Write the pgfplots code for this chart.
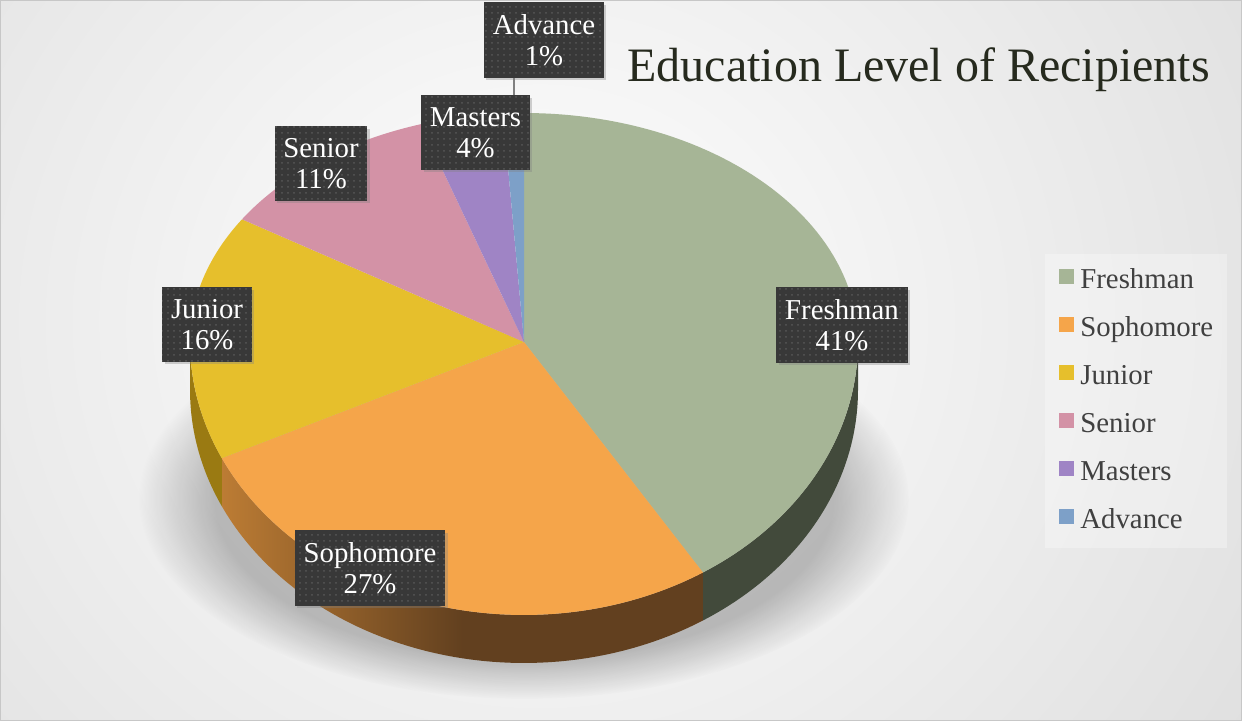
\documentclass[border=0pt]{standalone}
\usepackage{pgfplots}
\pgfplotsset{compat=1.18}
\usepackage{pgfplotstable}
\usepackage{fontspec}
\setmainfont{Liberation Serif}
\usetikzlibrary{patterns,shadows,fadings}
\definecolor{cFre}{HTML}{A6B596}
\definecolor{cSop}{HTML}{F5A54A}
\definecolor{cJun}{HTML}{E6BF2C}
\definecolor{cSen}{HTML}{D392A6}
\definecolor{cMas}{HTML}{9F84C5}
\definecolor{cAdv}{HTML}{7DA0C8}
\definecolor{cFreS}{HTML}{424A3B}
\definecolor{cSopL}{HTML}{BC7C34}
\definecolor{cSopD}{HTML}{62401F}
\definecolor{cJunS}{HTML}{9A7A12}
\definecolor{lblbg}{HTML}{383838}
\definecolor{lbldot}{HTML}{575757}
\definecolor{titlec}{HTML}{262A1E}
\definecolor{legtext}{HTML}{404040}

\pgfplotstableread{
label value
Freshman 41
Sophomore 27
Junior 16
Senior 11
Masters 4
Advance 1
}\piedata

\def\cx{524}\def\cy{379}\def\rx{334}\def\ryU{229}\def\ryD{273}\def\dd{48}

\tikzset{lbl/.style={fill=lblbg, text=white, align=center, font=\fontsize{14.4}{15.5}\selectfont,
  inner xsep=4.4pt, inner ysep=6pt,
  drop shadow={shadow xshift=1.2pt, shadow yshift=-1.2pt, opacity=0.35},
  postaction={pattern=dots, pattern color=lbldot}}}

\begin{document}%
\begin{tikzpicture}[x=0.5pt,y=0.5pt]
% cumulative angles, clockwise from the top
\def\angA{90}
\foreach \i/\n/\m in {0/A/B,1/B/C,2/C/D,3/D/E,4/E/F,5/F/G}{%
  \pgfplotstablegetelem{\i}{value}\of\piedata
  \pgfmathsetmacro\tmp{\csname ang\n\endcsname-3.6*\pgfplotsretval}%
  \expandafter\xdef\csname ang\m\endcsname{\tmp}}
\pgfmathsetmacro\pBx{\cx+\rx*cos(\angB)}\pgfmathsetmacro\pBy{\cy+\ryD*sin(\angB)}
\pgfmathsetmacro\pCx{\cx+\rx*cos(\angC)}\pgfmathsetmacro\pCy{\cy+\ryD*sin(\angC)}
\pgfmathsetmacro\pZx{\cx+\rx}
\path[use as bounding box] (0,0) rectangle (1242,721);
% background
\begin{scope}
\clip (0,0) rectangle (1242,721);
\shade[inner color=white, outer color=black!22] (540,400) ellipse (1500 and 1400);
\end{scope}
\draw[black!22, line width=0.6pt] (0.6,0.6) rectangle (1241.4,720.4);
% soft shadow under the pie
\fill[black, opacity=0.24, path fading=circle with fuzzy edge 20 percent] (524,222) ellipse (385 and 200);
\begin{axis}[x=0.5pt, y=0.5pt, xmin=0, xmax=1242, ymin=0, ymax=721,
  anchor=origin, at={(0,0)}, hide axis, clip=false,
  legend image code/.code={\fill[#1, draw=none, fill opacity=1] (0pt,-1.2pt) rectangle (7.5pt,6.3pt);},
  legend cell align=left,
  legend style={at={(1045/1242,467/721)}, anchor=north west, draw=none,
    fill=white, fill opacity=0.3, text opacity=1, text=legtext,
    font=\fontsize{14.4}{17}\selectfont, inner xsep=7pt, inner ysep=6pt,
    nodes={inner sep=0pt, text height=11pt, text depth=4pt},
    row sep=9pt,
    /tikz/every odd column/.append style={column sep=3pt}},
]
% sides
\addplot[fill=cFreS, draw=none, domain=\angB:0, samples=60, variable=\t, forget plot]
  ({\cx+\rx*cos(\t)}, {\cy-\dd+\ryD*sin(\t)}) -- (axis cs:\pZx,\cy)
  arc[start angle=0, end angle=\angB, x radius=167pt, y radius=136.5pt] -- cycle;
\addplot[left color=cSopL, right color=cSopD, middle color=cSopD, draw=none, domain=\angC:\angB, samples=60, variable=\t, forget plot]
  ({\cx+\rx*cos(\t)}, {\cy-\dd+\ryD*sin(\t)}) -- (axis cs:\pBx,\pBy)
  arc[start angle=\angB, end angle=\angC, x radius=167pt, y radius=136.5pt] -- cycle;
\addplot[fill=cJunS, draw=none, domain=-180:\angC, samples=30, variable=\t, forget plot]
  ({\cx+\rx*cos(\t)}, {\cy-\dd+\ryD*sin(\t)}) -- (axis cs:\pCx,\pCy)
  arc[start angle=\angC, end angle=-180, x radius=167pt, y radius=136.5pt] -- cycle;
% top faces
\addplot[fill=cFre, draw=none, domain=\angB:\angA, samples=90, variable=\t, forget plot]
  ({\cx+\rx*cos(\t)}, {\cy+ifthenelse(sin(\t)>0,\ryU,\ryD)*sin(\t)}) -- (axis cs:\cx,\cy) -- cycle;
\addplot[fill=cSop, draw=none, domain=\angC:\angB, samples=70, variable=\t, forget plot]
  ({\cx+\rx*cos(\t)}, {\cy+ifthenelse(sin(\t)>0,\ryU,\ryD)*sin(\t)}) -- (axis cs:\cx,\cy) -- cycle;
\addplot[fill=cJun, draw=none, domain=\angD:\angC, samples=50, variable=\t, forget plot]
  ({\cx+\rx*cos(\t)}, {\cy+ifthenelse(sin(\t)>0,\ryU,\ryD)*sin(\t)}) -- (axis cs:\cx,\cy) -- cycle;
\addplot[fill=cSen, draw=none, domain=\angE:\angD, samples=40, variable=\t, forget plot]
  ({\cx+\rx*cos(\t)}, {\cy+ifthenelse(sin(\t)>0,\ryU,\ryD)*sin(\t)}) -- (axis cs:\cx,\cy) -- cycle;
\addplot[fill=cMas, draw=none, domain=\angF:\angE, samples=20, variable=\t, forget plot]
  ({\cx+\rx*cos(\t)}, {\cy+ifthenelse(sin(\t)>0,\ryU,\ryD)*sin(\t)}) -- (axis cs:\cx,\cy) -- cycle;
\addplot[fill=cAdv, draw=none, domain=\angG:\angF, samples=8, variable=\t, forget plot]
  ({\cx+\rx*cos(\t)}, {\cy+ifthenelse(sin(\t)>0,\ryU,\ryD)*sin(\t)}) -- (axis cs:\cx,\cy) -- cycle;
% legend
\addlegendimage{fill=cFre}\addlegendentry{Freshman}
\addlegendimage{fill=cSop}\addlegendentry{Sophomore}
\addlegendimage{fill=cJun}\addlegendentry{Junior}
\addlegendimage{fill=cSen}\addlegendentry{Senior}
\addlegendimage{fill=cMas}\addlegendentry{Masters}
\addlegendimage{fill=cAdv}\addlegendentry{Advance}
% title
\node[anchor=base west, inner sep=0pt, text=titlec, font=\fontsize{24}{28}\selectfont] at (axis cs:627,639) {Education Level of Recipients};
% data labels
\draw[black!50, line width=0.6pt] (axis cs:514,643) -- (axis cs:514,626);
\node[lbl] at (axis cs:544,681) {Advance\\1\%};
\node[lbl] at (axis cs:475.5,588.5) {Masters\\4\%};
\node[lbl] at (axis cs:321,557.5) {Senior\\11\%};
\node[lbl] at (axis cs:207,396.5) {Junior\\16\%};
\node[lbl] at (axis cs:842,396) {Freshman\\41\%};
\node[lbl] at (axis cs:370,153) {Sophomore\\27\%};
\end{axis}
\end{tikzpicture}%
\end{document}
